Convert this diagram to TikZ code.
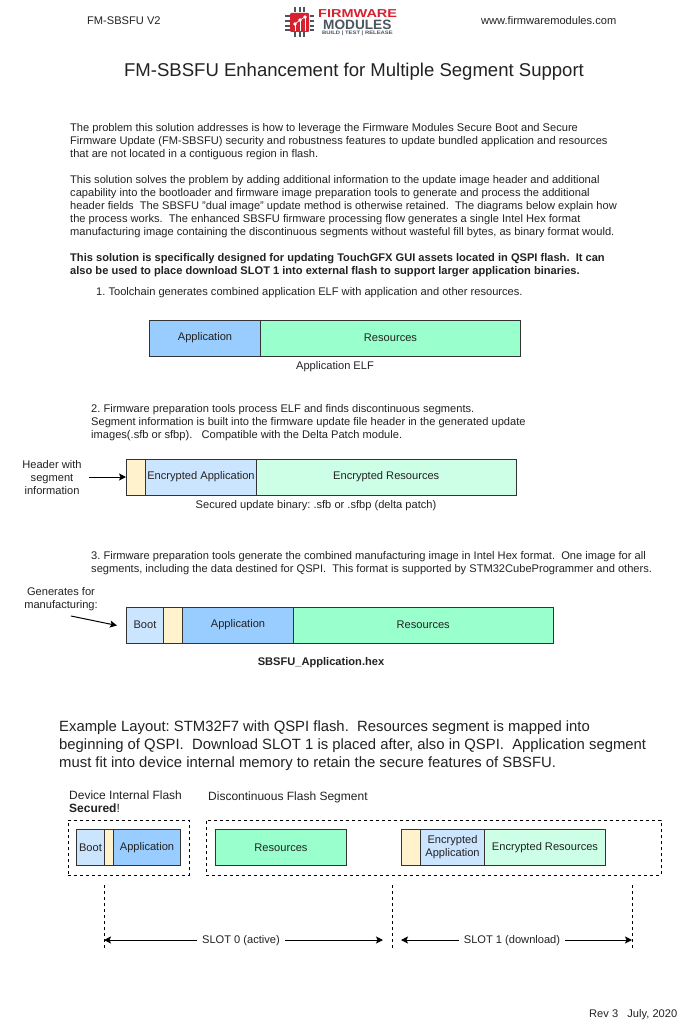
\documentclass[tikz,border=0pt]{standalone}
\usepackage{fontspec}
\setmainfont{Liberation Sans}
\usetikzlibrary{arrows.meta}
\frenchspacing
\definecolor{txt}{HTML}{222222}
\definecolor{appblue}{HTML}{99CCFF}
\definecolor{lightblue}{HTML}{CCE5FF}
\definecolor{resgreen}{HTML}{99FFCC}
\definecolor{lightgreen}{HTML}{CCFFE6}
\definecolor{hdr}{HTML}{FFF2CC}
\definecolor{logored}{HTML}{D8212F}
\definecolor{logogray}{HTML}{4A5560}
\tikzset{
  x=1pt,y=-1pt,
  seg/.style={draw=black!80,line width=1pt,inner sep=0pt,anchor=north west,font=\fontsize{11.1}{13}\selectfont,text=txt,align=center},
  para/.style={anchor=north west,inner sep=0pt,font=\fontsize{11.1}{13}\selectfont,text=txt,align=left},
  captxt/.style={inner sep=0pt,font=\fontsize{11.1}{13}\selectfont,text=txt,align=center},
  big/.style={anchor=north west,inner sep=0pt,font=\fontsize{14.85}{17.7}\selectfont,text=txt,align=left},
  dashbox/.style={draw=black,line width=0.7pt,dash pattern=on 3pt off 3pt},
  guide/.style={draw=black,line width=0.7pt,dash pattern=on 3pt off 3pt},
  arr/.style={draw=black,line width=1pt,-{Stealth[length=7pt,width=7pt,inset=1.5pt]}},
}
\newcommand{\segbox}[7]{\node[seg,fill=#6,minimum width=#4pt,minimum height=#5pt] (#1) at (#2,#3) {#7};}
\newcommand{\dsp}{\ \ }
\begin{document}
\begin{tikzpicture}
\useasboundingbox (0,0) rectangle (699,1024);
\fill[white] (0,0) rectangle (699,1024);
% header
\node[captxt,anchor=west] (ver) at (87,21) {FM-SBSFU V2};
\node[captxt,anchor=west] (www) at (481,21) {www.firmwaremodules.com};
% logo
\fill[logored,rounded corners=1pt] (290,13) rectangle (309,32);
\foreach \y in {15,20,25,29}{\fill[logogray] (285,\y) rectangle (289.5,\y+2.2);\fill[logogray] (309.5,\y) rectangle (314,\y+2.2);}
\foreach \x in {294,298.5,303}{\fill[logogray] (\x,7.5) rectangle (\x+2.4,12.5);\fill[logogray] (\x,32.5) rectangle (\x+2.4,37);}
\draw[white,line width=0.7pt] (295,24)--(300,20)--(305,17);
\draw[white,line width=0.7pt] (295,24)--(295,31) (300,20)--(300,31) (305,17)--(305,31);
\foreach \p in {(295,24),(300,20),(305,17)}{\fill[white] \p circle (1.8pt);}
\node[anchor=west,inner sep=0pt,text=logored,font=\bfseries\fontsize{11.5}{12}\selectfont] (logoa) at (318,14) {\scalebox{1.26}[1]{FIRMWARE}};
\node[anchor=west,inner sep=0pt,text=logogray,font=\bfseries\fontsize{13.5}{14}\selectfont] (logob) at (323,25) {\scalebox{1.01}[1]{MODULES}};
\node[anchor=west,inner sep=0pt,text=logogray,font=\bfseries\fontsize{4.9}{5}\selectfont] (logoc) at (322,33.5) {\scalebox{1.2}[1]{BUILD | TEST | RELEASE}};
% title
\node[inner sep=0pt,text=txt,font=\fontsize{18.55}{21}\selectfont] (title) at (354,71.5) {FM-SBSFU Enhancement for Multiple Segment Support};
% body
\node[para] (p1) at (70,123.5) {The problem this solution addresses is how to leverage the Firmware Modules Secure Boot and Secure\\Firmware Update (FM-SBSFU) security and robustness features to update bundled application and resources\\that are not located in a contiguous region in flash.};
\node[para] (p2) at (70,175.5) {This solution solves the problem by adding additional information to the update image header and additional\\capability into the bootloader and firmware image preparation tools to generate and process the additional\\header fields\dsp The SBSFU "dual image" update method is otherwise retained.\dsp The diagrams below explain how\\the process works.\dsp The enhanced SBSFU firmware processing flow generates a single Intel Hex format\\manufacturing image containing the discontinuous segments without wasteful fill bytes, as binary format would.};
\node[para,font=\bfseries\fontsize{11.1}{13}\selectfont] (p3) at (70,253.5) {This solution is specifically designed for updating TouchGFX GUI assets located in QSPI flash.\dsp It can\\also be used to place download SLOT 1 into external flash to support larger application binaries.};
% step 1
\node[para] (s1) at (96,286.8) {1. Toolchain generates combined application ELF with application and other resources.};
\segbox{a1}{149}{319.5}{111}{36}{appblue}{Application}
\segbox{r1}{260}{319.5}{260}{36}{resgreen}{Resources}
\node[captxt] (elf) at (335,367) {Application ELF};
% step 2
\node[para] (s2) at (91,404) {2. Firmware preparation tools process ELF and finds discontinuous segments.\\Segment information is built into the firmware update file header in the generated update\\images(.sfb or sfbp).\ \ \ Compatible with the Delta Patch module.};
\node[captxt] (hdrl) at (52,477.5) {Header with\\segment\\information};
\segbox{h2}{126}{458.5}{19}{36}{hdr}{}
\segbox{a2}{145}{458.5}{111}{36}{lightblue}{Encrypted Application}
\segbox{r2}{256}{458.5}{259.5}{36}{lightgreen}{Encrypted Resources}
\coordinate (hdrs) at (89,477);
\draw[arr] (hdrs) -- (h2.west);
\node[captxt] (sec) at (316,506) {Secured update binary: .sfb or .sfbp (delta patch)};
% step 3
\node[para] (s3) at (91,551) {3. Firmware preparation tools generate the combined manufacturing image in Intel Hex format.\dsp One image for all\\segments, including the data destined for QSPI.\dsp This format is supported by STM32CubeProgrammer and others.};
\node[captxt] (genl) at (61,599.5) {Generates for\\manufacturing:};
\segbox{b3}{126}{606.5}{37}{36}{lightblue}{Boot}
\segbox{h3}{163}{606.5}{19}{36}{hdr}{}
\segbox{a3}{182}{606.5}{111}{36}{appblue}{Application}
\segbox{r3}{293}{606.5}{259.5}{36}{resgreen}{Resources}
\coordinate (gens) at (71,616);
\coordinate (gene) at (117,625.5);
\draw[arr] (gens) -- (gene);
\node[captxt,font=\bfseries\fontsize{11.1}{13}\selectfont] (hex) at (321,663) {SBSFU\_Application.hex};
% example
\node[big] (ex) at (59,721) {Example Layout: STM32F7 with QSPI flash.\dsp Resources segment is mapped into\\beginning of QSPI.\dsp Download SLOT 1 is placed after, also in QSPI.\dsp Application segment\\must fit into device internal memory to retain the secure features of SBSFU.};
\node[para,font=\fontsize{12}{13}\selectfont] (dev) at (69,790.5) {Device Internal Flash\\\textbf{Secured}!};
\node[para,font=\fontsize{12}{13}\selectfont] (dis) at (208,792) {Discontinuous Flash Segment};
\node[dashbox,anchor=north west,minimum width=121pt,minimum height=55pt,inner sep=0pt] (d1) at (68,820) {};
\node[dashbox,anchor=north west,minimum width=455pt,minimum height=55pt,inner sep=0pt] (d2) at (206,820) {};
\segbox{b4}{76}{829}{28}{36}{lightblue}{Boot}
\segbox{h4}{104}{829}{9}{36}{hdr}{}
\segbox{a4}{113}{829}{67}{36}{appblue}{Application}
\segbox{r4}{215}{829}{131}{36}{resgreen}{Resources}
\segbox{h5}{401}{829}{19}{36}{hdr}{}
\segbox{a5}{420}{829}{64}{36}{lightblue}{Encrypted\\Application}
\segbox{r5}{484}{829}{121}{36}{lightgreen}{Encrypted Resources}
% guides
\coordinate (g1t) at (104,885); \coordinate (g1b) at (104,950);
\coordinate (g2t) at (392,885); \coordinate (g2b) at (392,950);
\coordinate (g3t) at (632,885); \coordinate (g3b) at (632,950);
\draw[guide] (g1t) -- (g1b);
\draw[guide] (g2t) -- (g2b);
\draw[guide] (g3t) -- (g3b);
\node[captxt,inner xsep=5pt,inner ysep=2pt] (sl0) at (241,941) {SLOT 0 (active)};
\node[captxt,inner xsep=5pt,inner ysep=2pt] (sl1) at (512,941) {SLOT 1 (download)};
\coordinate (s0a) at (104,940); \coordinate (s0b) at (383,940);
\coordinate (s1a) at (401,940); \coordinate (s1b) at (632,940);
\draw[arr] (sl0.west |- s0a) -- (s0a);
\draw[arr] (sl0.east |- s0a) -- (s0b);
\draw[arr] (sl1.west |- s1a) -- (s1a);
\draw[arr] (sl1.east |- s1a) -- (s1b);
\node[captxt,anchor=west] (rev) at (589,1015) {Rev 3\ \ \ July, 2020};
\end{tikzpicture}
\end{document}
